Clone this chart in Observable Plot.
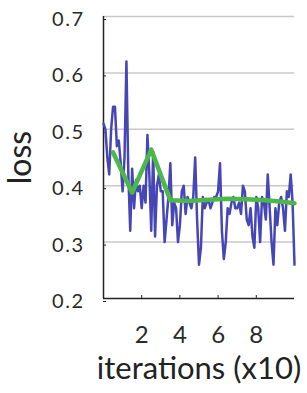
<!DOCTYPE html>
<html>
<head>
<meta charset="utf-8">
<script src="https://cdn.jsdelivr.net/npm/d3@7"></script>
<script src="https://cdn.jsdelivr.net/npm/@observablehq/plot@0.6"></script>
<style>
  html, body { margin: 0; padding: 0; background: #fff; }
  g[aria-label="y-axis tick label"] text { letter-spacing: 1.5px; }
</style>
</head>
<body>
<div id="chart"></div>
<script>
// Raw loss, one value every 0.1 (x10 iterations)
const rawX = d3.range(0, 101).map(i => i / 10);
const rawLoss = [
  0.51, 0.50, 0.45, 0.42, 0.50, 0.54, 0.54, 0.47, 0.48, 0.44,
  0.39, 0.45, 0.62, 0.42, 0.32, 0.43, 0.36, 0.41, 0.39, 0.40,
  0.36, 0.40, 0.37, 0.49, 0.42, 0.32, 0.46, 0.31, 0.40, 0.42,
  0.39, 0.39, 0.30, 0.34, 0.38, 0.44, 0.33, 0.37, 0.36, 0.30,
  0.33, 0.39, 0.40, 0.35, 0.38, 0.37, 0.36, 0.38, 0.45, 0.34,
  0.26, 0.29, 0.38, 0.36, 0.37, 0.375, 0.36, 0.37, 0.38, 0.38,
  0.39, 0.44, 0.32, 0.27, 0.30, 0.36, 0.35, 0.37, 0.38, 0.36,
  0.36, 0.37, 0.35, 0.40, 0.39, 0.34, 0.33, 0.36, 0.31, 0.29,
  0.38, 0.36, 0.30, 0.38, 0.37, 0.34, 0.42, 0.36, 0.30, 0.26,
  0.36, 0.33, 0.37, 0.38, 0.36, 0.32, 0.39, 0.38, 0.42, 0.37,
  0.26
];
// Smoothed loss
const smoothX = [0.5, 1.5, 2.5, 3.5, 4.5, 5.5, 6.5, 7.5, 8.5, 9.5, 10];
const smoothLoss = [0.459, 0.388, 0.464, 0.374, 0.373, 0.375, 0.377, 0.376, 0.374, 0.371, 0.369];

const xTicks = [2, 4, 6, 8];
const yTicks = [0.2, 0.3, 0.4, 0.5, 0.6, 0.7];
const xLabel = "iterations (x10)";
const yLabel = "loss";

const raw = rawX.map((x, i) => ({x, y: rawLoss[i]}));
const smooth = smoothX.map((x, i) => ({x, y: smoothLoss[i]}));

const chart = Plot.plot({
  width: 307,
  height: 393,
  marginLeft: 103,
  marginRight: 13,
  marginTop: 16,
  marginBottom: 95,
  style: { fontFamily: "Lato, sans-serif", background: "#fff", color: "#222" },
  x: { domain: [0, 10] },
  y: { domain: [0.2, 0.7] },
  marks: [
    Plot.gridY(yTicks.slice(1), { stroke: "#c8c8c8", strokeOpacity: 1, strokeWidth: 1.5 }),
    Plot.axisY(yTicks, { tickSize: -3, tickPadding: 22, fontSize: 20, dy: 3, tickFormat: d => d.toFixed(1), label: null, stroke: "#222", fill: "#2a2a2a" }),
    Plot.axisX(xTicks, { tickSize: -3, tickPadding: 30, fontSize: 24, label: null, stroke: "#222", fill: "#2a2a2a" }),
    Plot.ruleX([0], { stroke: "#222", strokeWidth: 1.5 }),
    Plot.ruleY([0.2], { stroke: "#222", strokeWidth: 1.5 }),
    Plot.line(raw, { x: "x", y: "y", stroke: "#4646b6", strokeWidth: 2.5 }),
    Plot.line(smooth, { x: "x", y: "y", stroke: "#4cb84a", strokeWidth: 4.5 }),
    Plot.text([yLabel], { frameAnchor: "left", textAnchor: "middle", lineAnchor: "middle", rotate: -90, dx: -83, fontSize: 32, fill: "#222" }),
    Plot.text([xLabel], { frameAnchor: "bottom", textAnchor: "middle", lineAnchor: "middle", dy: 71, fontSize: 31, fill: "#222" })
  ]
});
document.getElementById("chart").appendChild(chart);
</script>
</body>
</html>
